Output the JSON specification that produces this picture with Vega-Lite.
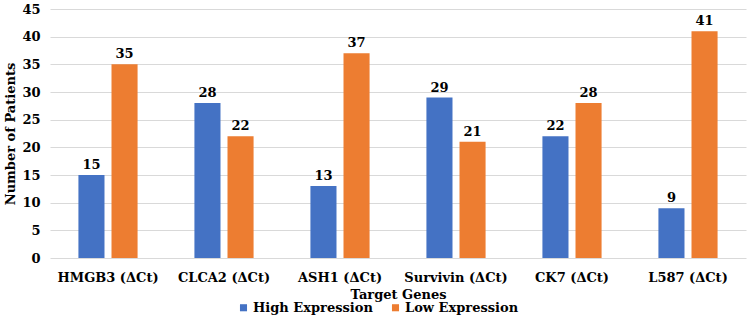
{
  "$schema": "https://vega.github.io/schema/vega-lite/v6.json",
  "width": 696,
  "height": 249,
  "autosize": {"type": "none"},
  "padding": {"left": 50, "top": 9, "right": 4, "bottom": 67},
  "background": "white",
  "data": {
    "values": [
      {"gene": "HMGB3 (ΔCt)", "group": "High Expression", "patients": 15},
      {"gene": "HMGB3 (ΔCt)", "group": "Low Expression", "patients": 35},
      {"gene": "CLCA2 (ΔCt)", "group": "High Expression", "patients": 28},
      {"gene": "CLCA2 (ΔCt)", "group": "Low Expression", "patients": 22},
      {"gene": "ASH1 (ΔCt)", "group": "High Expression", "patients": 13},
      {"gene": "ASH1 (ΔCt)", "group": "Low Expression", "patients": 37},
      {"gene": "Survivin (ΔCt)", "group": "High Expression", "patients": 29},
      {"gene": "Survivin (ΔCt)", "group": "Low Expression", "patients": 21},
      {"gene": "CK7 (ΔCt)", "group": "High Expression", "patients": 22},
      {"gene": "CK7 (ΔCt)", "group": "Low Expression", "patients": 28},
      {"gene": "L587 (ΔCt)", "group": "High Expression", "patients": 9},
      {"gene": "L587 (ΔCt)", "group": "Low Expression", "patients": 41}
    ]
  },
  "encoding": {
    "x": {
      "field": "gene",
      "type": "nominal",
      "sort": null,
      "scale": {"paddingInner": 0.49, "paddingOuter": 0.245},
      "axis": {
        "title": "Target Genes",
        "labelAngle": 0,
        "labelPadding": 13,
        "ticks": false,
        "domain": false,
        "titlePadding": 4
      }
    },
    "xOffset": {
      "field": "group",
      "type": "nominal",
      "scale": {"paddingInner": 0.212, "paddingOuter": 0}
    },
    "y": {
      "field": "patients",
      "type": "quantitative",
      "scale": {"domain": [0, 45], "nice": false},
      "axis": {
        "title": "Number of Patients",
        "values": [0, 5, 10, 15, 20, 25, 30, 35, 40, 45],
        "labelPadding": 10,
        "ticks": false,
        "domain": false,
        "grid": true,
        "gridColor": "#d9d9d9",
        "gridWidth": 1,
        "titlePadding": 4
      }
    }
  },
  "layer": [
    {
      "mark": {"type": "bar"},
      "encoding": {
        "color": {
          "field": "group",
          "type": "nominal",
          "scale": {
            "domain": ["High Expression", "Low Expression"],
            "range": ["#4472C4", "#ED7D31"]
          },
          "legend": {
            "title": null,
            "orient": "none",
            "legendX": 187,
            "legendY": 292,
            "direction": "horizontal",
            "symbolType": "square",
            "symbolSize": 50,
            "symbolStrokeWidth": 0,
            "labelOffset": 3,
            "columnPadding": 16
          }
        }
      }
    },
    {
      "mark": {
        "type": "text",
        "dy": -10,
        "font": "DejaVu Serif",
        "fontWeight": "bold",
        "fontSize": 13,
        "color": "#000000"
      },
      "encoding": {
        "text": {"field": "patients", "type": "quantitative"}
      }
    }
  ],
  "config": {
    "view": {"stroke": null},
    "axis": {
      "labelFont": "DejaVu Serif",
      "labelFontWeight": "bold",
      "labelFontSize": 13,
      "labelColor": "#000000",
      "titleFont": "DejaVu Serif",
      "titleFontWeight": "bold",
      "titleFontSize": 13,
      "titleColor": "#000000"
    },
    "legend": {
      "labelFont": "DejaVu Serif",
      "labelFontWeight": "bold",
      "labelFontSize": 13,
      "labelColor": "#000000"
    }
  }
}
